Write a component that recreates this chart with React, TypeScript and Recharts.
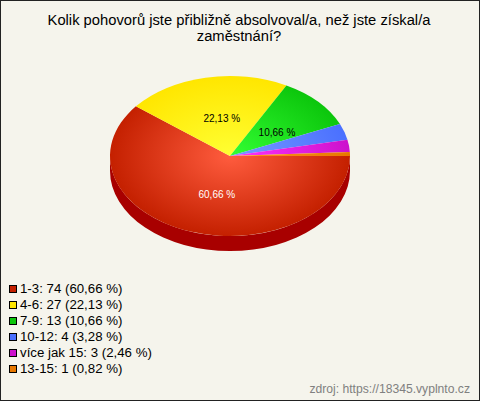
import { Pie, PieChart, Sector } from "recharts";

const categories = ["1-3", "4-6", "7-9", "10-12", "více jak 15", "13-15"];
const counts = [74, 27, 13, 4, 3, 1];
const percents = ["60,66", "22,13", "10,66", "3,28", "2,46", "0,82"];
const innerColors = ["#ff5c3e", "#ffff33", "#33ff33", "#7799ff", "#ff33ff", "#ff9922"];
const outerColors = ["#c42000", "#ffe600", "#0cc60c", "#4a70ff", "#cc11cc", "#e87800"];
const labelColors = ["#ffffff", "#000000", "#000000"];

const WIDTH = 480;
const HEIGHT = 401;
const CX = 230;
const CY = 156;
const RX = 120;
const SQUASH = 2 / 3;
const DEPTH = 15;
const FONT = '"Liberation Sans", Arial, sans-serif';

// label distance from the centre, horizontally and vertically
const labelRadii = [
  [40, 41],
  [40, 38],
  [64, 34],
];

const chartData = categories.map((category, i) => ({
  name: category,
  value: counts[i],
  fill: `url(#slice${i})`,
}));

const squashed = (cy: number) =>
  `translate(0 ${cy}) scale(1 ${SQUASH}) translate(0 ${-cy})`;

const TopSlice = (props: any) => (
  <g transform={squashed(props.cy)}>
    <Sector {...props} stroke="none" />
  </g>
);

// wall of the pie, only the part of a slice facing the viewer
const SideSlice = (props: any) => {
  const { cx, cy, outerRadius, startAngle, endAngle } = props;
  const from = Math.max(0, -startAngle);
  const to = Math.min(180, -endAngle);
  if (from >= to) return <g />;
  const ry = outerRadius * SQUASH;
  const px = (a: number) => cx + outerRadius * Math.cos((a * Math.PI) / 180);
  const py = (a: number) => cy + ry * Math.sin((a * Math.PI) / 180);
  const d = [
    `M${px(from)} ${py(from)}`,
    `A${outerRadius} ${ry} 0 0 1 ${px(to)} ${py(to)}`,
    `L${px(to)} ${py(to) + DEPTH}`,
    `A${outerRadius} ${ry} 0 0 0 ${px(from)} ${py(from) + DEPTH}`,
    "Z",
  ].join(" ");
  return <path d={d} fill="#a80000" />;
};

const renderLabel = (props: any) => {
  const { cx, cy, midAngle, index } = props;
  if (index >= labelRadii.length) return null;
  const a = (midAngle * Math.PI) / 180;
  return (
    <text
      x={cx + labelRadii[index][0] * Math.cos(a)}
      y={cy - labelRadii[index][1] * Math.sin(a)}
      fill={labelColors[index]}
      fontSize={10}
      fontFamily={FONT}
      textAnchor="middle"
      dominantBaseline="central"
    >
      {percents[index]} %
    </text>
  );
};

export default function App() {
  return (
    <div
      style={{
        position: "absolute",
        left: 0,
        top: 0,
        width: WIDTH,
        height: HEIGHT,
        background: "#f5f4ec",
        overflow: "hidden",
      }}
    >
      <PieChart width={WIDTH} height={HEIGHT} margin={{ top: 0, right: 0, bottom: 0, left: 0 }}>
        <defs>
          {categories.map((_, i) => (
            <radialGradient
              key={i}
              id={`slice${i}`}
              gradientUnits="userSpaceOnUse"
              cx={CX}
              cy={CY}
              r={RX}
            >
              <stop offset="0%" stopColor={innerColors[i]} />
              <stop offset="100%" stopColor={outerColors[i]} />
            </radialGradient>
          ))}
        </defs>
        <Pie
          data={chartData}
          dataKey="value"
          cx={CX}
          cy={CY}
          outerRadius={RX}
          startAngle={0}
          endAngle={-360}
          shape={SideSlice}
          isAnimationActive={false}
        />
        <Pie
          data={chartData}
          dataKey="value"
          cx={CX}
          cy={CY}
          outerRadius={RX}
          startAngle={0}
          endAngle={-360}
          shape={TopSlice}
          label={renderLabel}
          labelLine={false}
          isAnimationActive={false}
        />
      </PieChart>
      <div
        style={{
          position: "absolute",
          left: -1,
          top: 12,
          width: WIDTH,
          textAlign: "center",
          fontFamily: FONT,
          fontSize: 14.75,
          lineHeight: "16px",
          color: "#000",
        }}
      >
        Kolik pohovorů jste přibližně absolvoval/a, než jste získal/a
        <br />
        zaměstnání?
      </div>
      <div
        style={{
          position: "absolute",
          left: 9,
          top: 281,
          fontFamily: FONT,
          fontSize: 13.25,
          color: "#000",
        }}
      >
        {categories.map((category, i) => (
          <div key={category} style={{ height: 16, lineHeight: "16px", whiteSpace: "nowrap" }}>
            <span
              style={{
                display: "inline-block",
                boxSizing: "border-box",
                width: 8,
                height: 8,
                marginRight: 3,
                background: outerColors[i],
                border: "1px solid #000",
              }}
            />
            {category}: {counts[i]} ({percents[i]} %)
          </div>
        ))}
      </div>
      <div
        style={{
          position: "absolute",
          right: 10,
          top: 381,
          fontFamily: FONT,
          fontSize: 12.15,
          lineHeight: "16px",
          color: "#808080",
        }}
      >
        zdroj: https://18345.vyplnto.cz
      </div>
      <div
        style={{
          position: "absolute",
          inset: 0,
          boxSizing: "border-box",
          border: "1px solid #222",
          pointerEvents: "none",
        }}
      />
    </div>
  );
}
